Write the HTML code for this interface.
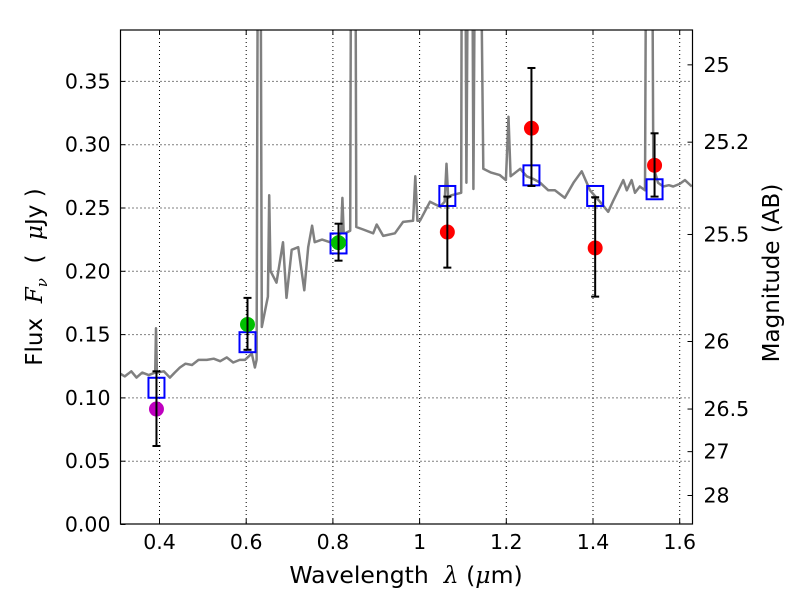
<!DOCTYPE html>
<html><head><meta charset="utf-8">
<style>
html,body{margin:0;padding:0;background:#fff;}
svg{display:block;font-family:"DejaVu Sans","Liberation Sans",sans-serif;}
.m{font-family:"DejaVu Serif","Liberation Serif",serif;font-style:italic;}
</style></head>
<body>
<svg id="chart" width="800" height="600" viewBox="0 0 800 600" xmlns="http://www.w3.org/2000/svg">
<rect x="0" y="0" width="800" height="600" fill="#fff"/>
<g id="grid"></g>
<g id="spec"></g>
<g id="marks"></g>
<g id="axes"></g>
<text x="406" y="583" font-size="23.5" text-anchor="middle">Wavelength&#160;&#160;<tspan class="m">λ</tspan> (<tspan class="m">μ</tspan>m)</text>
<text transform="translate(42,277) rotate(-90)" font-size="23" text-anchor="middle">Flux&#160;&#160;<tspan class="m">F</tspan><tspan class="m" font-size="15" dy="5">ν</tspan><tspan dy="-5">&#160;&#160;(&#160;&#160;</tspan><tspan class="m">μ</tspan>Jy&#160;)</text>
<text transform="translate(779,273) rotate(-90)" font-size="23" text-anchor="middle">Magnitude (AB)</text>
</svg>
<script>
const xTicks=[0.4,0.6,0.8,1.0,1.2,1.4,1.6];
const xTickLabels=["0.4","0.6","0.8","1","1.2","1.4","1.6"];
const yTicks=[0,0.05,0.1,0.15,0.2,0.25,0.3,0.35];
const yTickLabels=["0.00","0.05","0.10","0.15","0.20","0.25","0.30","0.35"];
const magTicks=[25,25.2,25.5,26,26.5,27,28];
const magTickLabels=["25","25.2","25.5","26","26.5","27","28"];
const specLam=[0.31,0.32,0.335,0.347,0.36,0.375,0.390,0.392,0.394,0.41,0.424,0.435,0.447,0.46,0.475,0.49,0.509,0.525,0.54,0.555,0.570,0.585,0.597,0.613,0.620,0.624,0.628,0.632,0.636,0.647,0.650,0.653,0.656,0.658,0.670,0.685,0.693,0.705,0.720,0.734,0.743,0.752,0.758,0.775,0.793,0.819,0.822,0.825,0.828,0.840,0.843,0.851,0.854,0.870,0.893,0.901,0.916,0.943,0.962,0.985,0.990,0.995,1.001,1.024,1.047,1.058,1.062,1.066,1.073,1.096,1.098,1.104,1.108,1.114,1.120,1.124,1.130,1.137,1.147,1.165,1.185,1.199,1.205,1.210,1.232,1.247,1.262,1.278,1.297,1.312,1.335,1.355,1.374,1.393,1.416,1.435,1.447,1.460,1.470,1.478,1.489,1.497,1.508,1.520,1.524,1.535,1.539,1.550,1.562,1.575,1.585,1.600,1.612,1.628];
const specFlux=[0.119,0.117,0.121,0.116,0.120,0.118,0.120,0.155,0.120,0.121,0.116,0.120,0.124,0.127,0.126,0.130,0.130,0.131,0.129,0.132,0.128,0.130,0.130,0.135,0.124,0.130,0.6,0.6,0.156,0.175,0.18,0.260,0.20,0.199,0.191,0.223,0.179,0.217,0.219,0.185,0.219,0.236,0.223,0.225,0.223,0.230,0.258,0.230,0.230,0.232,0.6,0.6,0.235,0.233,0.230,0.237,0.228,0.230,0.239,0.240,0.275,0.240,0.240,0.255,0.251,0.255,0.285,0.258,0.260,0.262,0.6,0.6,0.270,0.6,0.6,0.265,0.6,0.6,0.281,0.278,0.276,0.272,0.322,0.275,0.281,0.275,0.273,0.270,0.264,0.264,0.258,0.270,0.279,0.264,0.255,0.247,0.256,0.265,0.272,0.264,0.272,0.262,0.267,0.264,0.6,0.6,0.283,0.270,0.267,0.268,0.267,0.269,0.272,0.267];
const obsLam=[0.393,0.603,0.813,1.064,1.258,1.405,1.542];
const obsFlux=[0.0912,0.158,0.2226,0.231,0.313,0.2184,0.2837];
const obsErrLo=[0.062,0.138,0.2084,0.2029,0.2674,0.180,0.259];
const obsErrHi=[0.121,0.179,0.2376,0.259,0.3606,0.2585,0.309];
const obsColor=["#bf00bf","#00bf00","#00bf00","#ff0000","#ff0000","#ff0000","#ff0000"];
const modelFlux=[0.108,0.144,0.222,0.2595,0.2758,0.2595,0.2648];

const L=120.5,R=692.5,T=30,B=524;
const X=v=>159.5+(v-0.4)*433.5;
const Y=v=>524.5-v*1266;
const magY=m=>Y(Math.pow(10,(23.9-m)/2.5));
const NS="http://www.w3.org/2000/svg";
function mk(tag,attrs,parent){const e=document.createElementNS(NS,tag);for(const k in attrs)e.setAttribute(k,attrs[k]);parent.appendChild(e);return e;}
const grid=document.getElementById('grid'),spec=document.getElementById('spec'),marks=document.getElementById('marks'),axes=document.getElementById('axes');

xTicks.forEach((t,i)=>{const x=X(t);
 const g=mk('line',{x1:x,x2:x,y1:T,y2:B,stroke:'#000','stroke-width':1,'stroke-dasharray':'1,3'},grid);
 
 
 mk('line',{x1:x,x2:x,y1:B,y2:B-5,stroke:'#000'},axes);
 mk('line',{x1:x,x2:x,y1:T,y2:T+5,stroke:'#000'},axes);
 const tx=mk('text',{x:x,y:B+25,'font-size':20.5,'text-anchor':'middle'},axes);tx.textContent=xTickLabels[i];
 
 
});
yTicks.forEach((t,i)=>{const y=Y(t);
 if(i>0){const g=mk('line',{x1:L,x2:R,y1:y,y2:y,stroke:'#000','stroke-width':1,'stroke-dasharray':'1,3'},grid);
 
 }
 mk('line',{x1:L,x2:L+5,y1:y,y2:y,stroke:'#000'},axes);
 const tx=mk('text',{x:L-10,y:y+7,'font-size':20.5,'text-anchor':'end'},axes);tx.textContent=yTickLabels[i];
 
 
});
magTicks.forEach((m,i)=>{const y=magY(m);
 mk('line',{x1:R,x2:R-5,y1:y,y2:y,stroke:'#000'},axes);
 const tx=mk('text',{x:R+11,y:y+7,'font-size':20.5},axes);tx.textContent=magTickLabels[i];
 
 
});
const frame=mk('rect',{x:L,y:T,width:R-L,height:B-T,fill:'none',stroke:'#000','stroke-width':1.2},axes);



const cp=mk('clipPath',{id:'clip'},document.getElementById('chart'));
mk('rect',{x:L,y:T,width:R-L,height:B-T},cp);
spec.setAttribute('clip-path','url(#clip)');
const pts=specLam.map((l,i)=>X(l).toFixed(1)+','+Y(specFlux[i]).toFixed(1)).join(' ');
const pl=mk('polyline',{points:pts,fill:'none',stroke:'#808080','stroke-width':2.5,'stroke-linejoin':'round'},spec);



obsLam.forEach((l,i)=>{const x=X(l);
 const s=mk('rect',{x:x-8,y:Y(modelFlux[i])-10,width:16,height:20,fill:'none',stroke:'#0000ff','stroke-width':2},marks);
 
 
 const c=mk('circle',{cx:x,cy:Y(obsFlux[i]),r:7.5,fill:obsColor[i]},marks);
 
 
 const eb=mk('g',{stroke:'#000','stroke-width':2},marks);
 
 
 mk('line',{x1:x,x2:x,y1:Y(obsErrLo[i]),y2:Y(obsErrHi[i])},eb);
 mk('line',{x1:x-4,x2:x+4,y1:Y(obsErrLo[i]),y2:Y(obsErrLo[i])},eb);
 mk('line',{x1:x-4,x2:x+4,y1:Y(obsErrHi[i]),y2:Y(obsErrHi[i])},eb);
});
</script>
</body></html>
